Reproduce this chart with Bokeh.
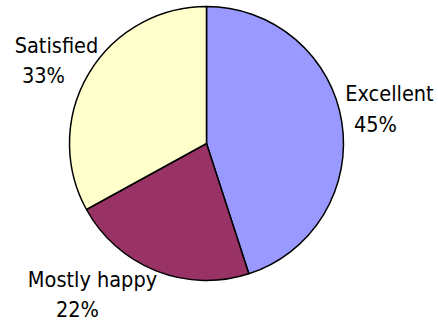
import numpy as np
from bokeh.plotting import figure
from bokeh.models import ColumnDataSource, Range1d
from bokeh.core.properties import value
from bokeh.embed import file_html
from bokeh.resources import INLINE

# data
categories = ["Excellent", "Mostly happy", "Satisfied"]
shares = [45, 22, 33]
colors = ["#9999FF", "#993366", "#FFFFCC"]
pct_labels = ["%d%%" % s for s in shares]

# layout (pixel-like canvas space)
W, H = 438, 320
cx, cy, radius = 206, 177, 137
name_x = [389, 92, 56]
name_y = [227, 41.5, 275.5]
pct_x = [375, 77, 43]
pct_y = [196.5, 11.5, 245]

frac = np.array(shares, dtype=float) / sum(shares)
cum = np.concatenate([[0.0], np.cumsum(frac)])
start = np.pi / 2 - cum[:-1] * 2 * np.pi
end = np.pi / 2 - cum[1:] * 2 * np.pi

src = ColumnDataSource(dict(cat=categories, start=start, end=end, color=colors,
                            nx=name_x, ny=name_y, px=pct_x, py=pct_y, pct=pct_labels))

p = figure(width=W, height=H, x_range=Range1d(0, W), y_range=Range1d(0, H),
           output_backend="svg", toolbar_location=None, min_border=0)
p.axis.visible = False
p.grid.visible = False
p.outline_line_color = None
p.background_fill_color = "white"
p.border_fill_color = "white"

p.wedge(x=cx, y=cy, radius=radius, start_angle="start", end_angle="end",
        direction="clock", fill_color="color", line_color="black", line_width=1.5,
        source=src)

font = value("DejaVu Sans Condensed, Noto Sans")
p.text(x="nx", y="ny", text="cat", text_align="center", text_baseline="middle",
       text_font=font, text_font_size="21.5px", text_color="black", source=src)
p.text(x="px", y="py", text="pct", text_align="center", text_baseline="middle",
       text_font=font, text_font_size="21.5px", text_color="black", source=src)

open("out.html", "w").write(file_html(p, INLINE))
